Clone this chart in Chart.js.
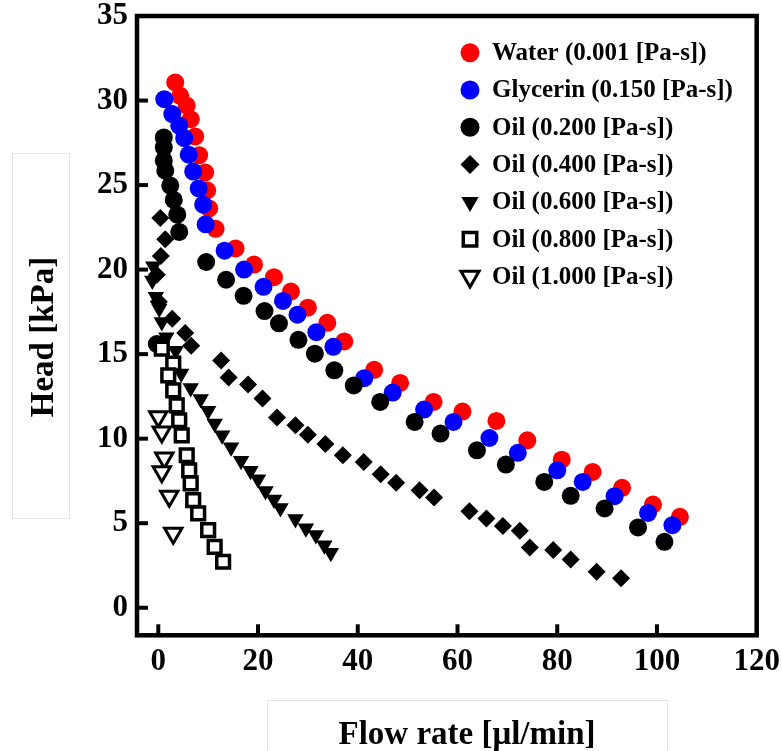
<!DOCTYPE html>
<html>
<head>
<meta charset="utf-8">
<title>Head vs flow rate</title>
<script src="https://cdn.jsdelivr.net/npm/chart.js@4.4.0/dist/chart.umd.min.js"></script>
<style>
  html, body { margin: 0; padding: 0; background: #ffffff; }
  #wrap { position: relative; width: 782px; height: 751px; }
  canvas { display: block; }
</style>
</head>
<body>
<div id="wrap"><canvas id="chart" width="782" height="751"></canvas></div>
<script>
// ---- measured series: flow rate [µl/min] and head [kPa] ----
const waterFlow = [3.4, 4.4, 5.7, 6.5, 7.4, 8.2, 9.4, 9.8, 10.2, 11.5, 15.5, 19.2, 23.2, 26.6, 30.0, 33.9, 37.3, 43.3, 48.5, 55.2, 61.0, 67.8, 74.0, 80.9, 87.1, 93.0, 99.2, 104.6];
const waterHead = [31.07, 30.28, 29.7, 28.9, 27.88, 26.77, 25.75, 24.68, 23.62, 22.41, 21.25, 20.3, 19.55, 18.7, 17.75, 16.85, 15.75, 14.07, 13.3, 12.17, 11.6, 11.05, 9.9, 8.76, 8.03, 7.09, 6.1, 5.38];

const glycerinFlow = [1.2, 2.8, 4.2, 5.2, 6.1, 7.0, 8.1, 9.0, 9.5, 13.3, 17.2, 21.1, 25.0, 27.9, 31.7, 35.1, 41.3, 47.0, 53.3, 59.2, 66.4, 72.1, 80.0, 85.1, 91.5, 98.2, 103.1];
const glycerinHead = [30.08, 29.2, 28.52, 27.77, 26.8, 25.8, 24.8, 23.84, 22.68, 21.12, 20.0, 18.98, 18.15, 17.33, 16.3, 15.43, 13.58, 12.73, 11.72, 10.99, 10.04, 9.16, 8.13, 7.44, 6.6, 5.61, 4.88];

const oil200Flow = [-0.3, 1.1, 1.1, 1.1, 1.4, 2.4, 3.1, 3.8, 4.2, 9.6, 13.6, 17.1, 21.3, 24.2, 28.1, 31.4, 35.3, 39.2, 44.5, 51.4, 56.6, 63.9, 69.7, 77.4, 82.7, 89.5, 96.2, 101.5];
const oil200Head = [15.6, 27.82, 27.23, 26.44, 25.85, 24.97, 24.12, 23.25, 22.23, 20.45, 19.4, 18.45, 17.55, 16.82, 15.85, 15.03, 14.04, 13.15, 12.17, 10.99, 10.3, 9.31, 8.47, 7.44, 6.62, 5.87, 4.75, 3.9];

const oil400Flow = [0.4, 1.4, 0.5, -0.3, 0.1, 2.8, 5.4, 6.6, 12.6, 14.1, 18.0, 20.9, 23.8, 27.5, 30.0, 33.5, 37.0, 41.2, 44.6, 47.7, 52.4, 55.3, 62.4, 65.8, 69.1, 72.5, 74.5, 79.2, 82.7, 87.9, 92.8];
const oil400Head = [23.05, 21.8, 20.8, 19.7, 18.1, 17.1, 16.25, 15.5, 14.63, 13.62, 13.2, 12.37, 11.25, 10.8, 10.23, 9.69, 9.02, 8.62, 7.9, 7.4, 6.95, 6.52, 5.71, 5.28, 4.83, 4.55, 3.57, 3.41, 2.86, 2.13, 1.74];

const oil600Flow = [-1.0, -1.2, -0.5, 0.2, 0.7, 1.6, 3.5, 4.6, 6.5, 8.5, 10.0, 11.3, 12.8, 14.6, 16.6, 18.5, 20.0, 21.5, 23.2, 24.5, 27.5, 29.6, 31.6, 33.3, 34.6];
const oil600Head = [20.2, 19.35, 18.4, 17.7, 16.9, 16.0, 15.2, 13.85, 13.0, 12.35, 11.65, 10.9, 10.2, 9.5, 8.7, 8.1, 7.6, 6.9, 6.4, 5.9, 5.25, 4.7, 4.3, 3.7, 3.25];

const oil800Flow = [0.7, 3.0, 2.0, 3.0, 3.7, 4.2, 4.7, 5.7, 6.2, 6.5, 7.0, 8.0, 10.0, 11.3, 13.0];
const oil800Head = [15.32, 14.44, 13.75, 12.86, 11.97, 11.09, 10.2, 9.02, 8.13, 7.35, 6.36, 5.58, 4.59, 3.6, 2.72];

const oil1000Flow = [0.0, 0.7, 1.2, 0.7, 2.2, 3.0];
const oil1000Head = [11.3, 10.4, 8.85, 8.05, 6.6, 4.4];

const seriesLabels = [
  'Water (0.001 [Pa-s])',
  'Glycerin (0.150 [Pa-s])',
  'Oil (0.200 [Pa-s])',
  'Oil (0.400 [Pa-s])',
  'Oil (0.600 [Pa-s])',
  'Oil (0.800 [Pa-s])',
  'Oil (1.000 [Pa-s])'
];

const xTickValues = [0, 20, 40, 60, 80, 100, 120];
const yTickValues = [0, 5, 10, 15, 20, 25, 30, 35];

const xTitle = 'Flow rate [\u03bcl/min]';
const yTitle = 'Head [kPa]';

// ---- helpers ----
const SERIF = '"Liberation Serif", "Times New Roman", Times, serif';
const pairs = (xs, ys) => xs.map((x, i) => ({ x: x, y: ys[i] }));

function markerSet(label, data, style, order) {
  return Object.assign({
    label: label,
    data: data,
    order: order,
    showLine: false,
    pointHoverRadius: 0,
    clip: false
  }, style);
}

const datasets = [
  markerSet(seriesLabels[0], pairs(waterFlow, waterHead),
    { pointStyle: 'circle', pointRadius: 9, pointBorderWidth: 0, pointBackgroundColor: '#ff0000', pointBorderColor: '#ff0000', backgroundColor: '#ff0000', borderColor: '#ff0000' }, 7),
  markerSet(seriesLabels[1], pairs(glycerinFlow, glycerinHead),
    { pointStyle: 'circle', pointRadius: 9, pointBorderWidth: 0, pointBackgroundColor: '#0000ff', pointBorderColor: '#0000ff', backgroundColor: '#0000ff', borderColor: '#0000ff' }, 6),
  markerSet(seriesLabels[2], pairs(oil200Flow, oil200Head),
    { pointStyle: 'circle', pointRadius: 9, pointBorderWidth: 0, pointBackgroundColor: '#000000', pointBorderColor: '#000000', backgroundColor: '#000000', borderColor: '#000000' }, 5),
  markerSet(seriesLabels[3], pairs(oil400Flow, oil400Head),
    { pointStyle: 'rectRot', pointRadius: 9, pointBorderWidth: 0, pointBackgroundColor: '#000000', pointBorderColor: '#000000', backgroundColor: '#000000', borderColor: '#000000' }, 4),
  markerSet(seriesLabels[4], pairs(oil600Flow, oil600Head),
    { pointStyle: 'triangle', pointRotation: 180, pointRadius: 9.5, pointBorderWidth: 0, pointBackgroundColor: '#000000', pointBorderColor: '#000000', backgroundColor: '#000000', borderColor: '#000000' }, 3),
  markerSet(seriesLabels[5], pairs(oil800Flow, oil800Head),
    { pointStyle: 'rect', pointRadius: 9, pointBorderWidth: 3.5, pointBackgroundColor: '#ffffff', pointBorderColor: '#000000', backgroundColor: '#ffffff', borderColor: '#000000' }, 2),
  markerSet(seriesLabels[6], pairs(oil1000Flow, oil1000Head),
    { pointStyle: 'triangle', pointRotation: 180, pointRadius: 10, pointBorderWidth: 3, pointBackgroundColor: '#ffffff', pointBorderColor: '#000000', backgroundColor: '#ffffff', borderColor: '#000000' }, 1)
];

// Heavy box frame with short inward tick marks on the left and bottom axes.
const framePlugin = {
  id: 'frameAndTicks',
  afterDatasetsDraw(chart) {
    const { ctx, chartArea: a, scales } = chart;
    ctx.save();
    ctx.strokeStyle = '#000000';
    ctx.lineCap = 'butt';
    ctx.lineWidth = 4;
    yTickValues.forEach(v => {
      if (v === scales.y.max) return;
      const py = scales.y.getPixelForValue(v);
      ctx.beginPath();
      ctx.moveTo(a.left, py);
      ctx.lineTo(a.left + 11, py);
      ctx.stroke();
    });
    xTickValues.forEach(v => {
      if (v === scales.x.max) return;
      const px = scales.x.getPixelForValue(v);
      ctx.beginPath();
      ctx.moveTo(px, a.bottom);
      ctx.lineTo(px, a.bottom - 11);
      ctx.stroke();
    });
    ctx.lineWidth = 4.5;
    ctx.lineJoin = 'miter';
    ctx.strokeRect(a.left, a.top, a.right - a.left, a.bottom - a.top);
    ctx.restore();
  }
};

// Axis titles, each inside a faint outline box.
const titlesPlugin = {
  id: 'axisTitles',
  afterDraw(chart) {
    const ctx = chart.ctx;
    ctx.save();
    ctx.strokeStyle = '#e4e4e4';
    ctx.lineWidth = 1;
    ctx.strokeRect(12.5, 153.5, 57, 365);
    ctx.strokeRect(267.5, 700.5, 400, 60);

    ctx.fillStyle = '#000000';
    ctx.font = 'bold 33px ' + SERIF;
    ctx.textAlign = 'center';
    ctx.textBaseline = 'middle';
    ctx.fillText(xTitle, 467, 735);

    ctx.translate(44, 337);
    ctx.rotate(-Math.PI / 2);
    ctx.fillText(yTitle, 0, 0);
    ctx.restore();
  }
};

// Vertical key in the upper right of the plot, built from the datasets.
const keyPlugin = {
  id: 'seriesKey',
  afterDraw(chart) {
    const ctx = chart.ctx;
    const draw = Chart.helpers.drawPoint;
    ctx.save();
    chart.data.datasets.forEach((ds, i) => {
      const y = 52.7 + i * 37.3;
      ctx.fillStyle = ds.pointBackgroundColor;
      ctx.strokeStyle = ds.pointBorderColor;
      ctx.lineWidth = ds.pointBorderWidth;
      draw(ctx, {
        pointStyle: ds.pointStyle,
        rotation: ds.pointRotation || 0,
        radius: ds.pointRadius + 0.5,
        borderWidth: ds.pointBorderWidth
      }, 470, y);
      ctx.fillStyle = '#000000';
      ctx.font = 'bold 25px ' + SERIF;
      ctx.textAlign = 'left';
      ctx.textBaseline = 'middle';
      ctx.fillText(ds.label, 492, y + 1);
    });
    ctx.restore();
  }
};

// Pin the axis boxes so the plot frame lands at fixed edges.
function pinScale(size, isX) {
  return s => {
    if (isX) { s.height = size; } else { s.width = size; }
    s.paddingLeft = 0; s.paddingRight = 0; s.paddingTop = 0; s.paddingBottom = 0;
  };
}

const tickFont = { family: SERIF, size: 31, weight: 'bold', lineHeight: 1 };

new Chart(document.getElementById('chart'), {
  type: 'scatter',
  data: { datasets: datasets },
  plugins: [framePlugin, titlesPlugin, keyPlugin],
  options: {
    responsive: false,
    animation: false,
    devicePixelRatio: 1,
    events: [],
    layout: { padding: { left: 0, right: 25.3, top: 16, bottom: 0 } },
    plugins: {
      legend: { display: false },
      tooltip: { enabled: false },
      title: { display: false }
    },
    scales: {
      x: {
        type: 'linear',
        position: 'bottom',
        min: -4.27,
        max: 120,
        grid: { display: false, drawTicks: false },
        border: { display: false },
        title: { display: false },
        ticks: { font: tickFont, color: '#000000', padding: 11, maxRotation: 0, autoSkip: false },
        afterBuildTicks: s => { s.ticks = xTickValues.map(v => ({ value: v })); },
        afterFit: pinScale(115.7, true)
      },
      y: {
        type: 'linear',
        position: 'left',
        min: -1.63,
        max: 35,
        grid: { display: false, drawTicks: false },
        border: { display: false },
        title: { display: false },
        ticks: { font: tickFont, color: '#000000', padding: 9, autoSkip: false },
        afterBuildTicks: s => { s.ticks = yTickValues.map(v => ({ value: v })); },
        afterFit: pinScale(137, false)
      }
    }
  }
});
</script>
</body>
</html>
